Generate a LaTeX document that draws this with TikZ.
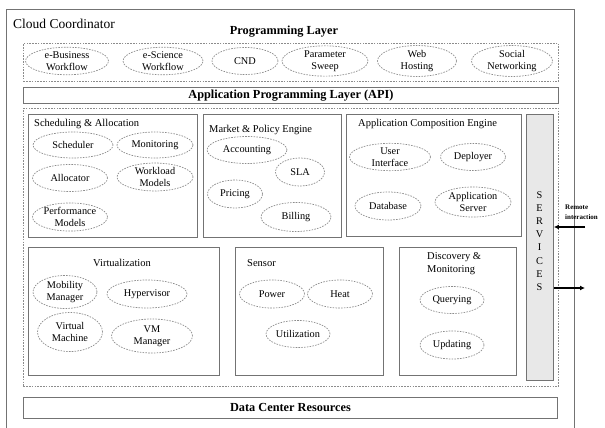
\documentclass[tikz,border=0pt]{standalone}
\usepackage{fontspec}
\setmainfont{Liberation Serif}
\usetikzlibrary{shapes.geometric, arrows.meta}

\begin{document}
\begin{tikzpicture}[x=1pt, y=-1pt,
    box/.style={draw=black!55, line width=0.9pt, inner sep=0pt, anchor=north west},
    layer/.style={draw=black!45, line width=0.7pt, dash pattern=on 1.6pt off 1.2pt, inner sep=0pt, anchor=north west},
    bar/.style={box, font=\bfseries\fontsize{12.3}{13}\selectfont},
    op/.style={ellipse, draw=black!45, line width=0.7pt, dash pattern=on 1.6pt off 1.2pt, inner sep=0pt, align=center, font=\fontsize{10.3}{12.5}\selectfont},
    title/.style={font=\fontsize{10.5}{13}\selectfont, align=left, inner sep=0pt},
    flow/.style={-{Latex[length=5pt, width=5pt]}, line width=1.6pt}]
    \clip (0,0) rectangle (605,428);
    \node[box, minimum width=568pt, minimum height=421pt] (coord) at (6,9) {};
    \node[title, anchor=west, font=\fontsize{13.5}{15}\selectfont] (coordlabel) at (13,24) {Cloud Coordinator};
    \node[title, font=\bfseries\fontsize{12.3}{13}\selectfont] (proglabel) at (284,32) {Programming Layer};
    \node[layer, minimum width=535pt, minimum height=38pt] (prog) at (23,43) {};
    \node[op, minimum width=83pt, minimum height=27pt] (ebiz) at (67,61) {e-Business\\Workflow};
    \node[op, minimum width=80pt, minimum height=27pt] (esci) at (163,61) {e-Science\\Workflow};
    \node[op, minimum width=66pt, minimum height=27pt] (cnd) at (245,61) {CND};
    \node[op, minimum width=86pt, minimum height=27pt] (sweep) at (325,61) {Parameter\\Sweep};
    \node[op, minimum width=79pt, minimum height=27pt] (web) at (417,61) {Web\\Hosting};
    \node[op, minimum width=81pt, minimum height=27pt] (social) at (512,61) {Social\\Networking};
    \node[bar, minimum width=535pt, minimum height=16pt] (api) at (23,87) {};
    \node[title, font=\bfseries\fontsize{12.3}{13}\selectfont] (apilabel) at (api.center) {Application Programming Layer (API)};
    \node[layer, minimum width=535pt, minimum height=278pt] (core) at (23,108) {};
    \node[box, minimum width=169pt, minimum height=123pt] (sched) at (28,114) {};
    \node[title, anchor=west] (schedlabel) at (34,124) {Scheduling \& Allocation};
    \node[op, minimum width=80pt, minimum height=26pt] (scheduler) at (73,145) {Scheduler};
    \node[op, minimum width=76pt, minimum height=26pt] (monitor) at (155,145) {Monitoring};
    \node[op, minimum width=75pt, minimum height=27pt] (alloc) at (70,178) {Allocator};
    \node[op, minimum width=76pt, minimum height=27pt] (workload) at (155,177) {Workload\\Models};
    \node[op, minimum width=75pt, minimum height=27pt] (perf) at (70,217) {Performance\\Models};
    \node[box, minimum width=138pt, minimum height=123pt] (market) at (203,114) {};
    \node[title, anchor=west] (marketlabel) at (209,130) {Market \& Policy Engine};
    \node[op, minimum width=80pt, minimum height=27pt] (account) at (247,150) {Accounting};
    \node[op, minimum width=49pt, minimum height=28pt] (sla) at (300,172) {SLA};
    \node[op, minimum width=55pt, minimum height=28pt] (pricing) at (235,194) {Pricing};
    \node[op, minimum width=70pt, minimum height=29pt] (billing) at (296,217) {Billing};
    \node[box, minimum width=175pt, minimum height=122pt] (compose) at (346,114) {};
    \node[title, anchor=west] (composelabel) at (358,124) {Application Composition Engine};
    \node[op, minimum width=81pt, minimum height=27pt] (ui) at (390,157) {User\\Interface};
    \node[op, minimum width=65pt, minimum height=27pt] (deploy) at (473,157) {Deployer};
    \node[op, minimum width=66pt, minimum height=28pt] (db) at (388,206) {Database};
    \node[op, minimum width=76pt, minimum height=30pt] (appsrv) at (473,202) {Application\\Server};
    \node[box, fill=black!9, minimum width=27pt, minimum height=266pt] (svc) at (526,114) {};
    \node[title, align=center, font=\fontsize{10.3}{13.1}\selectfont] (svclabel) at (539.5,241) {S\\E\\R\\V\\I\\C\\E\\S};
    \node[box, minimum width=191pt, minimum height=128pt] (virt) at (28,247) {};
    \node[title] (virtlabel) at (122,263) {Virtualization};
    \node[op, minimum width=64pt, minimum height=33pt] (mobility) at (65,292) {Mobility\\Manager};
    \node[op, minimum width=80pt, minimum height=28pt] (hyper) at (147,294) {Hypervisor};
    \node[op, minimum width=65pt, minimum height=39pt] (vm) at (70,332) {Virtual\\Machine};
    \node[op, minimum width=81pt, minimum height=34pt] (vmm) at (152,336) {VM\\Manager};
    \node[box, minimum width=148pt, minimum height=128pt] (sensor) at (235,247) {};
    \node[title, anchor=west] (sensorlabel) at (247,263) {Sensor};
    \node[op, minimum width=65pt, minimum height=28pt] (power) at (272,294) {Power};
    \node[op, minimum width=65pt, minimum height=28pt] (heat) at (340,294) {Heat};
    \node[op, minimum width=64pt, minimum height=27pt] (util) at (298,334) {Utilization};
    \node[box, minimum width=117pt, minimum height=128pt] (disc) at (399,247) {};
    \node[title, anchor=west] (disclabel) at (427,264) {Discovery \&\\Monitoring};
    \node[op, minimum width=64pt, minimum height=27pt] (query) at (452,300) {Querying};
    \node[op, minimum width=64pt, minimum height=28pt] (update) at (452,345) {Updating};
    \node[bar, minimum width=534pt, minimum height=21pt] (dc) at (23,397) {};
    \node[title, font=\bfseries\fontsize{12.3}{13}\selectfont] (dclabel) at (dc.center) {Data Center Resources};
    \node[title, anchor=west, font=\bfseries\fontsize{7}{10}\selectfont] (remotelabel) at (565,212) {Remote\\interaction};
    \coordinate (remote) at (585,227);
    \coordinate (out) at (585,288);
    \draw[flow] (remote) -- (remote -| svc.east);
    \draw[flow] (out -| svc.east) -- (out);
\end{tikzpicture}
\end{document}
